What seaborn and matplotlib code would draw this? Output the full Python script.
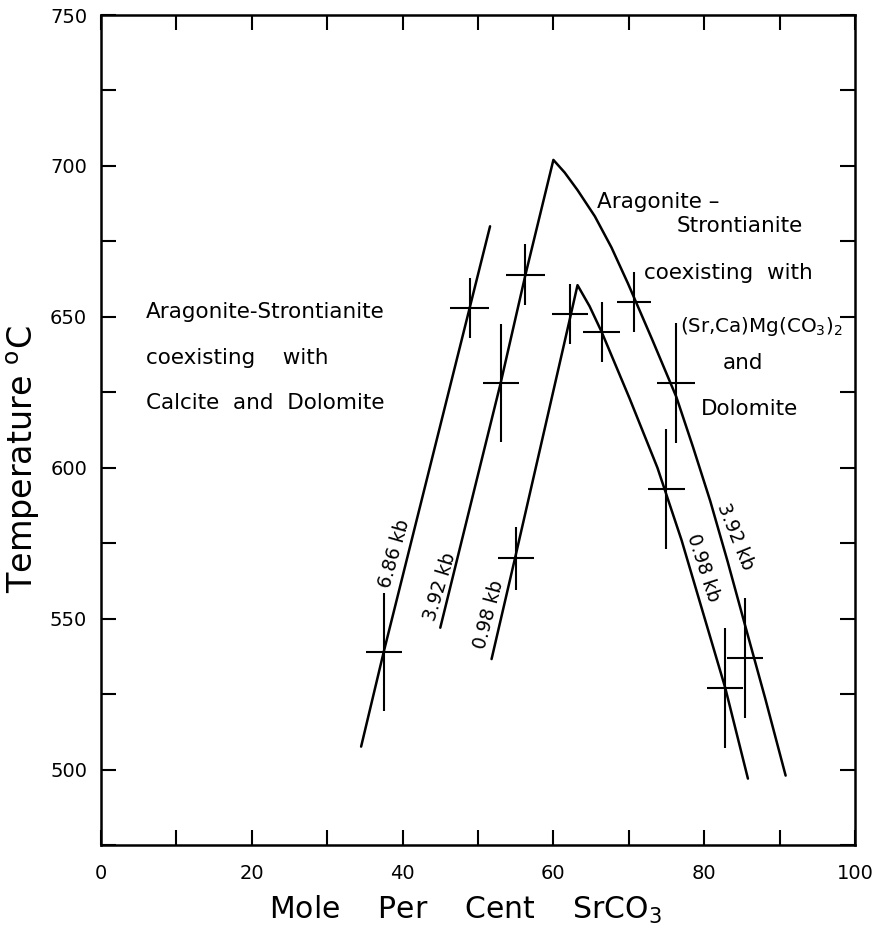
import numpy as np
import pandas as pd
import seaborn as sns
import matplotlib.pyplot as plt
from matplotlib.ticker import MultipleLocator

# measured crosses (mole % SrCO3, temperature) with their half-widths
cross_x = [37.5, 48.9, 53.0, 56.3, 55.0, 62.2, 66.4, 70.7, 76.3, 75.0, 82.8, 85.4]
cross_t = [539, 653, 628, 664, 570, 651, 645, 655, 628, 593, 527, 537]
cross_xerr = [2.4, 2.6, 2.4, 2.6, 2.4, 2.4, 2.5, 2.3, 2.5, 2.4, 2.4, 2.4]
cross_terr = [19.5, 10, 19.6, 10, 10.5, 10, 10, 10, 19.8, 20, 20, 20]

# solvus curves
curve_686_x = [34.5, 37.5, 44.6, 48.9, 51.6]
curve_686_t = [507.6, 539, 610, 653, 680]

curve_392_x = [45.0, 50.1, 53.0, 56.3, 60.0, 61.5, 63.2, 65.5, 67.7, 69.9, 73.1, 76.3, 78.5, 80.8, 83.1, 85.4, 88.1, 90.8]
curve_392_t = [547, 598.7, 628, 664, 702, 697.8, 692, 683.3, 673, 661, 642.5, 623.5, 607, 589, 569, 548, 523.5, 498]

curve_098_x = [51.8, 55.0, 58.9, 62.2, 63.2, 64.8, 66.4, 70.1, 73.8, 77.0, 79.9, 82.8, 85.8]
curve_098_t = [536.6, 571, 613.5, 649.5, 660.5, 653.5, 645, 623, 600, 576, 551.5, 527, 497]

sns.set_style("ticks")
plt.rcParams['font.family'] = ['DejaVu Sans']
plt.rcParams['mathtext.fontset'] = 'dejavusans'
plt.rcParams['text.color'] = 'black'
plt.rcParams['axes.labelcolor'] = 'black'
plt.rcParams['xtick.color'] = 'black'
plt.rcParams['ytick.color'] = 'black'

fig = plt.figure(figsize=(8.72, 9.39), dpi=100)
ax = fig.add_axes([0.1158, 0.1001, 0.8647, 0.8839])

curves = pd.concat([
    pd.DataFrame({'x': curve_686_x, 't': curve_686_t, 'p': '6.86 kb'}),
    pd.DataFrame({'x': curve_392_x, 't': curve_392_t, 'p': '3.92 kb'}),
    pd.DataFrame({'x': curve_098_x, 't': curve_098_t, 'p': '0.98 kb'}),
])
sns.lineplot(data=curves, x='x', y='t', units='p', estimator=None, sort=False,
             color='black', linewidth=1.8, ax=ax, legend=False)

ax.errorbar(cross_x, cross_t, xerr=cross_xerr, yerr=cross_terr, fmt='none',
            ecolor='black', elinewidth=1.5, capsize=0)

ax.set_xlim(0, 100)
ax.set_ylim(475, 750)
ax.xaxis.set_major_locator(MultipleLocator(20))
ax.xaxis.set_minor_locator(MultipleLocator(10))
ax.yaxis.set_major_locator(MultipleLocator(50))
ax.yaxis.set_minor_locator(MultipleLocator(25))
ax.set_yticks([500, 550, 600, 650, 700, 750])
ax.tick_params(which='both', direction='in', length=11, width=1.5,
               top=True, right=True, colors='black')
ax.tick_params(axis='x', which='major', pad=14, labelsize=14)
ax.tick_params(axis='y', which='major', pad=10, labelsize=14)
for s in ax.spines.values():
    s.set_linewidth(1.8)
    s.set_color('black')

ax.set_xlabel('Mole    Per    Cent    SrCO$_3$', fontsize=21.5, va='center')
ax.xaxis.set_label_coords(0.483, -0.078)
ax.set_ylabel('Temperature $^{\\mathrm{o}}$C', fontsize=24, va='center')
ax.yaxis.set_label_coords(-0.103, 0.465)

# region labels
tk = dict(fontsize=15.5, ha='left', va='baseline')
ax.text(6.0, 649.5, 'Aragonite-Strontianite', **tk)
ax.text(6.0, 634.3, 'coexisting    with', **tk)
ax.text(6.0, 619.5, 'Calcite  and  Dolomite', **tk)

ax.text(65.8, 686.1, 'Aragonite \u2013', **tk)
ax.text(76.3, 678.2, 'Strontianite', **tk)
ax.text(72.0, 662.4, 'coexisting  with', **tk)
ax.text(76.8, 644.9, '(Sr,Ca)Mg(CO$_3$)$_2$', fontsize=14.3, ha='left', va='baseline')
ax.text(82.4, 632.7, 'and', **tk)
ax.text(79.5, 617.5, 'Dolomite', **tk)

# pressure labels along the curves
lk = dict(fontsize=13.5, ha='center', va='center', rotation_mode='anchor')
ax.text(38.9, 571.6, '6.86 kb', rotation=74, **lk)
ax.text(44.9, 560.7, '3.92 kb', rotation=73, **lk)
ax.text(51.4, 551.5, '0.98 kb', rotation=75, **lk)
ax.text(84.1, 577.2, '3.92 kb', rotation=-68, **lk)
ax.text(79.9, 566.7, '0.98 kb', rotation=-72, **lk)

fig.savefig('out.png', dpi=100)
